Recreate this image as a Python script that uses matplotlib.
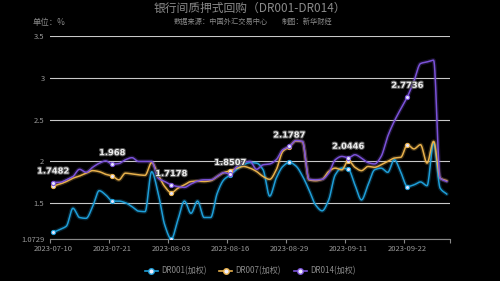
import numpy as np
import pandas as pd
import matplotlib
matplotlib.use("Agg")
import matplotlib.pyplot as plt
import matplotlib.patheffects as pe
from matplotlib.lines import Line2D

plt.rcParams['font.family'] = ['Noto Sans CJK SC', 'DejaVu Sans']

# ---------------- data ----------------
dates = list(pd.bdate_range("2023-07-10", "2023-09-28").strftime("%Y-%m-%d")) + ["2023-10-07", "2023-10-08"]

dr001 = [1.151, 1.187, 1.227, 1.44, 1.33, 1.32, 1.46, 1.65, 1.60, 1.526,
         1.526, 1.506, 1.46, 1.406, 1.40, 1.877, 1.62, 1.24, 1.0729, 1.30,
         1.526, 1.38, 1.526, 1.33, 1.33, 1.62, 1.78, 1.84, 1.906, 1.96,
         1.986, 1.98, 1.90, 1.586, 1.80, 1.94, 1.99, 1.946, 1.826, 1.66,
         1.48, 1.41, 1.54, 1.84, 1.92, 1.906, 1.72, 1.54, 1.72, 1.90,
         1.92, 1.87, 2.02, 1.87, 1.70, 1.72, 1.755, 1.71, 2.22, 1.68,
         1.61]
dr007 = [1.706, 1.73, 1.76, 1.80, 1.826, 1.86, 1.89, 1.878, 1.846, 1.826,
         1.78, 1.86, 1.85, 1.84, 1.834, 1.986, 1.84, 1.70, 1.626, 1.68,
         1.72, 1.76, 1.765, 1.76, 1.77, 1.82, 1.866, 1.89, 1.918, 1.94,
         1.92, 1.88, 1.82, 1.786, 1.90, 2.12, 2.175, 2.245, 2.235, 1.78,
         1.77, 1.786, 1.88, 1.92, 1.90, 2.01, 1.93, 1.89, 1.94, 1.93,
         1.96, 2.00, 2.04, 2.05, 2.20, 2.15, 2.20, 1.98, 2.24, 1.80,
         1.77]
dr014 = [1.7482, 1.75, 1.78, 1.82, 1.906, 1.87, 1.93, 1.978, 2.006, 1.968,
         1.975, 2.02, 2.045, 2.00, 2.00, 2.00, 1.80, 1.76, 1.7178, 1.70,
         1.69, 1.73, 1.765, 1.78, 1.78, 1.82, 1.866, 1.8507, 1.94, 1.986,
         2.00, 1.906, 1.96, 1.97, 2.02, 2.14, 2.1787, 2.25, 2.24, 1.786,
         1.78, 1.786, 1.86, 2.02, 2.06, 2.0446, 2.08, 2.04, 1.986, 1.97,
         2.06, 2.30, 2.48, 2.63, 2.7736, 2.96, 3.17, 3.19, 3.21, 1.80,
         1.76]

series_names = ["DR001(加权)", "DR007(加权)", "DR014(加权)"]
colors = ["#1e9ed8", "#e8b14c", "#7b52d9"]
yticks = [1.0729, 1.5, 2, 2.5, 3, 3.5]
ytick_labels = ["1.0729", "1.5", "2", "2.5", "3", "3.5"]


def smooth(y, n=16):
    # monotone cubic through the points, like a smoothed line chart
    y = np.asarray(y, dtype=float)
    x = np.arange(len(y))
    d = np.diff(y)
    m = np.zeros_like(y)
    m[0], m[-1] = d[0], d[-1]
    for k in range(1, len(y) - 1):
        if d[k - 1] * d[k] > 0:
            m[k] = 2 * d[k - 1] * d[k] / (d[k - 1] + d[k])
    xs, ys = [], []
    t = np.linspace(0, 1, n, endpoint=False)
    for k in range(len(y) - 1):
        h00 = 2 * t**3 - 3 * t**2 + 1
        h10 = t**3 - 2 * t**2 + t
        h01 = -2 * t**3 + 3 * t**2
        h11 = t**3 - t**2
        xs.append(x[k] + t)
        ys.append(h00 * y[k] + h10 * m[k] + h01 * y[k + 1] + h11 * m[k + 1])
    xs.append([x[-1]])
    ys.append([y[-1]])
    return np.concatenate(xs), np.concatenate(ys)


fig = plt.figure(figsize=(5, 2.81), dpi=100, facecolor="black")
ax = fig.add_axes([0.1, 0.1495, 0.8, 0.7225])
ax.set_facecolor("black")

x = np.arange(len(dates))
mark_idx = list(range(0, len(dates), 9))

for vals, color in zip([dr001, dr007, dr014], colors):
    xs, ys = smooth(vals)
    ax.plot(xs, ys, color=color, lw=3.0, alpha=0.22, solid_capstyle="round", zorder=2)
    ax.plot(xs, ys, color=color, lw=1.1, zorder=3)
    ax.plot(x[mark_idx], np.array(vals)[mark_idx], "o", ms=3, mfc="#e6e6ff",
            mec=color, mew=0.8, zorder=4)

for i in mark_idx:
    ax.annotate(f"{dr014[i]}", (x[i], dr014[i]), xytext=(0, 5), textcoords="offset points",
                ha="center", va="bottom", fontsize=6, color="#eeeeee", fontweight="bold",
                family="DejaVu Sans", zorder=6,
                path_effects=[pe.withStroke(linewidth=1.5, foreground="#555555")])

ax.set_xlim(-0.5, len(dates) - 0.5)
ax.set_ylim(yticks[0], yticks[-1])
ax.set_yticks(yticks)
ax.set_yticklabels(ytick_labels)
ax.yaxis.grid(True, color="#c8c8c8", lw=0.8)
ax.set_axisbelow(True)

ax.set_xticks([i - 0.5 for i in mark_idx] + [len(dates) - 0.5])
ax.set_xticklabels([])
ax.set_xticks(mark_idx, minor=True)
ax.set_xticklabels([dates[i] for i in mark_idx], minor=True)
ax.tick_params(axis="x", which="major", length=3, color="#888888", width=0.8)
ax.tick_params(axis="x", which="minor", length=0, pad=4, labelsize=5.5, labelcolor="#999999")
ax.tick_params(axis="y", length=0, pad=4, labelsize=5.5, labelcolor="#999999")

for s in ["top", "right", "left"]:
    ax.spines[s].set_visible(False)
ax.spines["bottom"].set_color("#888888")
ax.spines["bottom"].set_linewidth(0.8)

fig.text(0.5, 1 - 8 / 281, "银行间质押式回购（DR001-DR014）", ha="center", va="center",
         fontsize=8.5, color="#8a8a8a")
fig.text(268 / 500, 1 - 22 / 281, "数据来源：中国外汇交易中心", ha="right", va="center",
         fontsize=5.2, color="#8a8a8a")
fig.text(282 / 500, 1 - 22 / 281, "制图：新华财经", ha="left", va="center",
         fontsize=5.2, color="#8a8a8a")
fig.text(33 / 500, 1 - 22 / 281, "单位：%", ha="left", va="center",
         fontsize=6, color="#8a8a8a")

handles = [Line2D([0], [0], color=c, lw=1.2, marker="o", ms=4, mfc="#f0f0ff", mec=c, mew=1)
           for c in colors]
fig.legend(handles, series_names, loc="center", bbox_to_anchor=(0.5, 1 - 271 / 281),
           ncol=3, frameon=False, fontsize=5.8, labelcolor="#8a8a8a",
           handlelength=1.6, handletextpad=0.4, columnspacing=1.6)

fig.savefig("out.png", dpi=100, facecolor="black")
